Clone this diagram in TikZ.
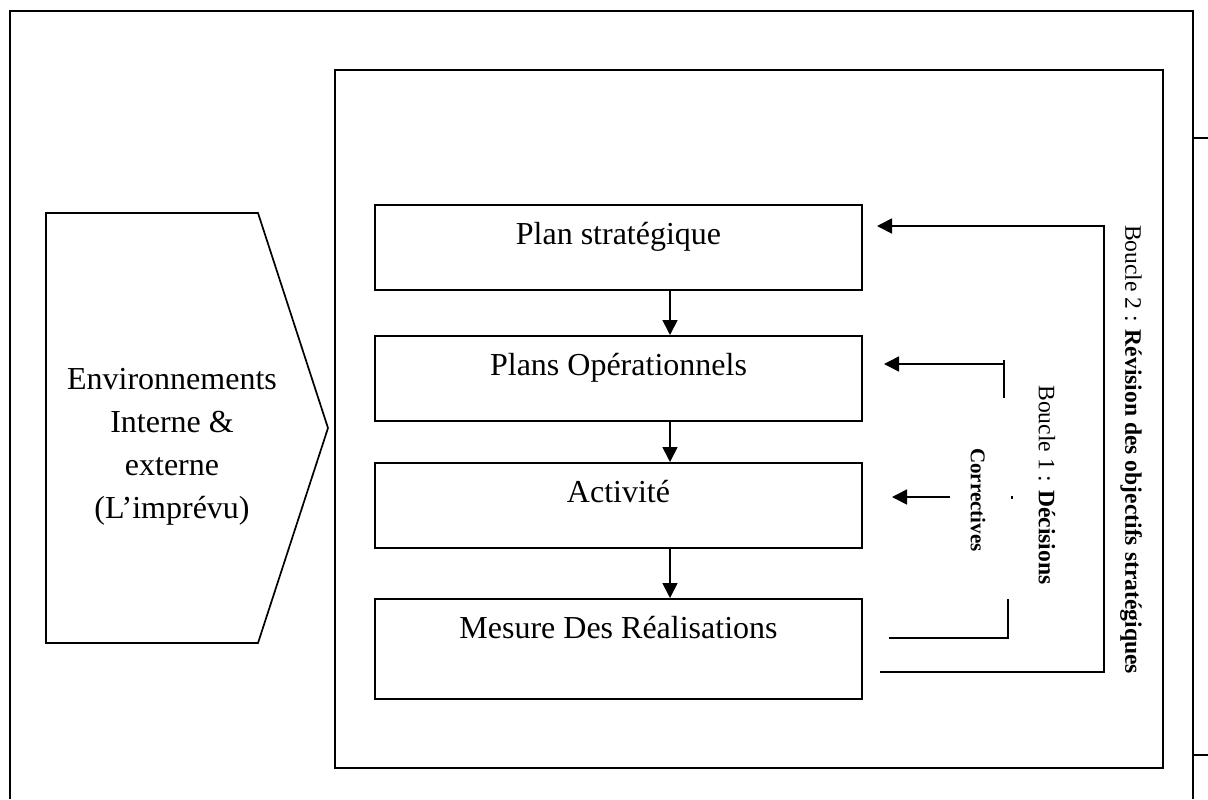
\documentclass[tikz,border=0pt]{standalone}
\usepackage{fontspec}
\setmainfont{Liberation Serif}
\usetikzlibrary{arrows.meta}
\tikzstyle{etape} = [draw, minimum width=243.5pt, inner ysep=0pt, text height=20pt, text depth=22.5pt, font={\fontsize{16}{19}\selectfont}]
\tikzstyle{fleche} = [-{Triangle[length=7.5pt,width=7.5pt]}]
\tikzstyle{boucle} = [rotate=-90, inner sep=0pt, font={\fontsize{11.8}{14}\selectfont}]
\tikzstyle{cadre} = [line width=1pt]

\begin{document}
\begin{tikzpicture}[x=0.5pt,y=-0.5pt,line width=0.85pt]
        \useasboundingbox (0,0) rectangle (1208,799);
        % cadres
        \draw[cadre] (10,799) -- (10,11) -- (1193,11) -- (1193,799);
        \draw[cadre] (1193,138) -- (1208,138);
        \draw[cadre] (1193,755) -- (1208,755);
        \draw[cadre] (335,70) rectangle (1163,768);
        % environnement
        \draw (46,213) -- (258,213) -- (328,428) -- (258,643) -- (46,643) -- cycle;
        \node[align=center, font={\fontsize{16}{21.5}\selectfont}](env) at (172,447){Environnements\\Interne \&\\externe\\(L'imprévu)};
        % etapes
        \node[etape, anchor=north](plan) at (618.5,204){Plan stratégique};
        \node[etape, anchor=north](ops) at (618.5,335){Plans Opérationnels};
        \node[etape, anchor=north](act) at (618.5,462){Activité};
        \node[etape, anchor=north, text depth=30pt](mes) at (618.5,598){Mesure Des Réalisations};
        \draw[fleche]([xshift=25.75pt]plan.south) -- ([xshift=25.75pt]ops.north);
        \draw[fleche]([xshift=25.75pt]ops.south) -- ([xshift=25.75pt]act.north);
        \draw[fleche]([xshift=25.75pt]act.south) -- ([xshift=25.75pt]mes.north);
        % boucle 2
        \coordinate (m2) at (880,672);
        \coordinate (c2) at (1104,449);
        \coordinate (r2) at (877,226);
        \draw[fleche] (m2) -| (c2) |- (r2);
        % boucle 1
        \coordinate (h1) at (1004,360);
        \coordinate (d1) at (1004,364);
        \coordinate (r1) at (884,364);
        \draw (h1) -- (1004,398);
        \draw[fleche] (d1) -- (r1);
        \coordinate (c1) at (950,497);
        \coordinate (a1) at (892,497);
        \draw[fleche] (c1) -- (a1);
        \draw (1012,495.5) -- (1012,498.5);
        \coordinate (m1) at (889,638);
        \draw (1008,599) |- (m1);
        % textes
        \node[boucle](b2) at (1131,449.5){Boucle 2 : \textbf{Révision des objectifs stratégiques}};
        \node[boucle](b1) at (1047,485){Boucle 1 : \textbf{Décisions}};
        \node[boucle, font={\fontsize{10.5}{12}\selectfont\bfseries}](corr) at (978,500){Correctives};
      \end{tikzpicture}
\end{document}
